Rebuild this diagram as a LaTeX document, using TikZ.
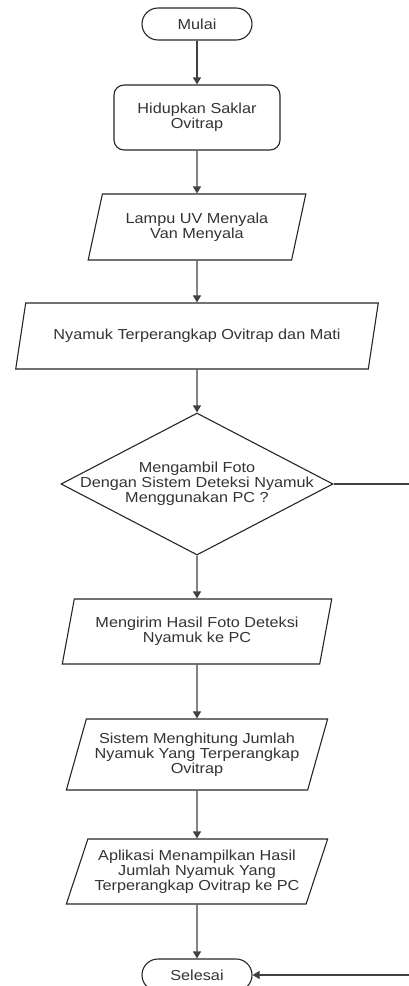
\documentclass[tikz,border=0pt]{standalone}
\usepackage{fontspec}
\setmainfont{Liberation Sans}[FakeStretch=1.12]
\usetikzlibrary{shapes.geometric, arrows.meta, positioning}

\begin{document}
\begin{tikzpicture}[x=1pt, y=-1pt, font=\fontsize{14.5}{15}\selectfont, text=black!80,
    terminal/.style={draw=black!85, line width=1.1pt, rounded corners=16pt, minimum width=110pt, minimum height=32pt},
    proses/.style={draw=black!85, line width=1.1pt, rounded corners=10pt, minimum width=166pt, minimum height=65pt, align=center},
    io/.style 2 args={draw=black!85, line width=1.1pt, trapezium, trapezium left angle=#1, trapezium right angle=#2, trapezium stretches=true, align=center},
    keputusan/.style={draw=black!85, line width=1.1pt, diamond, minimum width=272pt, minimum height=142pt, inner sep=0pt},
    panah/.style={draw=black!75, line width=1.1pt, -{Triangle[width=8pt,length=7pt]}}]
    \useasboundingbox (0,0) rectangle (409,986);
    \clip (0,0) rectangle (409,986);
    % urutan proses
    \node[terminal] (mulai) at (197,24) {Mulai};
    \node[proses] (saklar) at (197,117.5) {Hidupkan Saklar\\Ovitrap};
    \node[io={72.3}{107.7}, minimum width=218pt, minimum height=66pt] (lampu) at (197,227) {Lampu UV Menyala\\Van Menyala};
    \node[io={67}{113}, minimum width=364pt, minimum height=66pt] (nyamuk) at (197,336) {Nyamuk Terperangkap Ovitrap dan Mati};
    \node[keputusan] (cek) at (197,484) {};
    \node[align=center] (cekteks) at (cek) {Mengambil Foto\\Dengan Sistem Deteksi Nyamuk\\Menggunakan PC ?};
    \node[io={73.7}{106.3}, minimum width=270pt, minimum height=65pt] (kirim) at (197,631.5) {Mengirim Hasil Foto Deteksi\\Nyamuk ke PC};
    \node[io={69.2}{110.8}, minimum width=262pt, minimum height=71pt] (hitung) at (197,754.5) {Sistem Menghitung Jumlah\\Nyamuk Yang Terperangkap\\Ovitrap};
    \node[io={67.4}{112.6}, minimum width=262pt, minimum height=65pt] (aplikasi) at (197,871.5) {Aplikasi Menampilkan Hasil\\Jumlah Nyamuk Yang\\Terperangkap Ovitrap ke PC};
    \node[terminal] (selesai) at (197,975) {Selesai};
    \coordinate (belok) at (430,484);
    % panah
    \draw[panah] (mulai) -- (saklar);
    \draw[panah] (saklar) -- (lampu);
    \draw[panah] (lampu) -- (nyamuk);
    \draw[panah] (nyamuk) -- (cek);
    \draw[panah] (cek) -- (kirim);
    \draw[panah] (kirim) -- (hitung);
    \draw[panah] (hitung) -- (aplikasi);
    \draw[panah] (aplikasi) -- (selesai);
    \draw[panah] (cek.east) -- (belok) |- (selesai.east);
\end{tikzpicture}
\end{document}
